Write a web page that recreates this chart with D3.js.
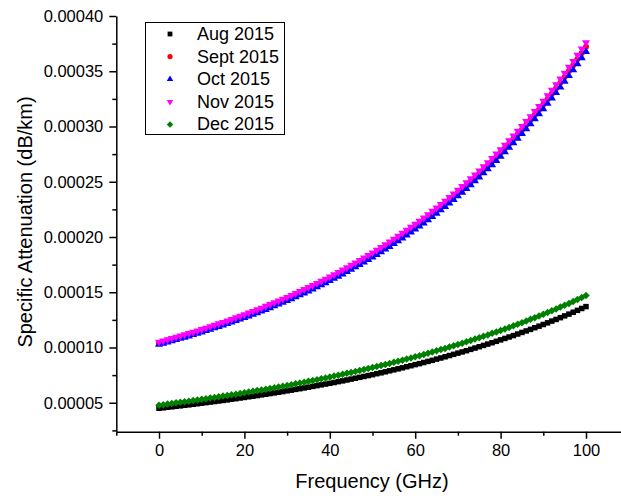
<!DOCTYPE html>
<html>
<head>
<meta charset="utf-8">
<script src="https://cdn.jsdelivr.net/npm/d3@7"></script>
<style>
  body { margin: 0; background: #fff; }
  svg { display: block; font-family: Arial, "Liberation Sans", sans-serif; }
</style>
</head>
<body>
<svg id="chart"></svg>
<script>
// frequency grid (GHz)
const freq = d3.range(0, 101, 1);

// specific attenuation values, in units of 1e-6 dB/km
const aug = [
  45.0,45.4,45.9,46.3,46.8,47.2,47.7,48.1,48.6,49.1,
  49.6,50.1,50.6,51.1,51.6,52.1,52.6,53.2,53.7,54.3,
  54.8,55.4,55.9,56.5,57.1,57.7,58.3,58.9,59.5,60.1,
  60.8,61.4,62.1,62.7,63.4,64.1,64.8,65.5,66.2,66.9,
  67.6,68.3,69.1,69.8,70.6,71.4,72.2,73.0,73.8,74.6,
  75.4,76.3,77.1,78.0,78.9,79.8,80.7,81.6,82.6,83.5,
  84.5,85.4,86.4,87.4,88.4,89.5,90.5,91.6,92.7,93.8,
  94.9,96.0,97.1,98.3,99.5,100.7,101.9,103.1,104.3,105.6,
  106.9,108.2,109.5,110.8,112.2,113.6,115.0,116.4,117.9,119.3,
  120.8,122.3,123.9,125.4,127.0,128.6,130.2,131.9,133.6,135.3,
  137.0];

const sept = [
  104.0,105.0,106.1,107.2,108.3,109.4,110.6,111.7,112.9,114.0,
  115.3,116.5,117.8,119.0,120.4,121.7,123.0,124.3,125.7,127.1,
  128.5,130.0,131.5,133.0,134.4,136.0,137.6,139.2,140.8,142.5,
  144.0,145.8,147.5,149.3,151.1,152.9,154.7,156.6,158.5,160.4,
  162.4,164.3,166.4,168.5,170.6,172.8,174.9,177.1,179.4,181.7,
  183.9,186.3,188.8,191.2,193.7,196.2,198.8,201.5,204.1,206.8,
  209.6,212.4,215.2,218.2,221.2,224.1,227.2,230.3,233.5,236.7,
  240.0,243.3,246.8,250.3,253.7,257.4,261.1,264.7,268.6,272.4,
  276.3,280.4,284.4,288.6,292.8,297.1,301.6,306.0,310.6,315.1,
  319.9,324.7,329.6,334.6,339.7,344.8,350.2,355.5,361.0,366.6,
  372.2];

const oct = [
  102.7,103.7,104.8,105.9,107.0,108.1,109.2,110.3,111.5,112.7,
  113.9,115.1,116.3,117.6,118.9,120.2,121.5,122.8,124.2,125.6,
  127.0,128.4,129.9,131.3,132.8,134.3,135.9,137.5,139.1,140.7,
  142.3,144.0,145.7,147.5,149.2,151.0,152.8,154.7,156.6,158.5,
  160.4,162.4,164.4,166.4,168.5,170.6,172.8,175.0,177.2,179.5,
  181.8,184.1,186.5,188.9,191.3,193.9,196.4,199.0,201.6,204.3,
  207.0,209.8,212.6,215.5,218.4,221.4,224.4,227.5,230.7,233.8,
  237.1,240.4,243.8,247.2,250.7,254.2,257.9,261.5,265.3,269.1,
  273.0,277.0,281.0,285.1,289.3,293.5,297.8,302.3,306.8,311.3,
  316.0,320.8,325.6,330.5,335.5,340.7,345.9,351.2,356.6,362.1,
  367.7];

const nov = [
  105.0,106.1,107.2,108.3,109.4,110.5,111.7,112.8,114.0,115.2,
  116.5,117.7,119.0,120.2,121.6,122.9,124.2,125.6,127.0,128.4,
  129.8,131.3,132.8,134.3,135.8,137.4,139.0,140.6,142.2,143.9,
  145.5,147.3,149.0,150.8,152.6,154.4,156.3,158.2,160.1,162.0,
  164.0,166.0,168.1,170.2,172.3,174.5,176.7,178.9,181.2,183.5,
  185.8,188.2,190.7,193.1,195.7,198.2,200.8,203.5,206.2,208.9,
  211.7,214.5,217.4,220.4,223.4,226.4,229.5,232.6,235.9,239.1,
  242.4,245.8,249.3,252.8,256.3,260.0,263.7,267.4,271.3,275.2,
  279.1,283.2,287.3,291.5,295.8,300.1,304.6,309.1,313.7,318.3,
  323.1,328.0,332.9,338.0,343.1,348.3,353.7,359.1,364.6,370.3,
  376.0];

const dec = [
  47.8,48.3,48.8,49.3,49.9,50.4,50.9,51.4,52.0,52.5,
  53.1,53.7,54.2,54.8,55.4,56.0,56.6,57.2,57.8,58.4,
  59.0,59.7,60.3,61.0,61.6,62.3,63.0,63.6,64.3,65.0,
  65.7,66.4,67.2,67.9,68.6,69.4,70.1,70.9,71.7,72.5,
  73.3,74.1,74.9,75.7,76.6,77.4,78.3,79.2,80.0,80.9,
  81.8,82.8,83.7,84.6,85.6,86.6,87.5,88.5,89.5,90.6,
  91.6,92.6,93.7,94.8,95.9,97.0,98.1,99.2,100.4,101.5,
  102.7,103.9,105.1,106.3,107.6,108.9,110.1,111.4,112.8,114.1,
  115.4,116.8,118.2,119.6,121.1,122.5,124.0,125.5,127.0,128.5,
  130.1,131.7,133.3,134.9,136.6,138.2,139.9,141.7,143.4,145.2,
  147.0];

const seriesNames = ["Aug 2015", "Sept 2015", "Oct 2015", "Nov 2015", "Dec 2015"];
const xTicks = [0, 20, 40, 60, 80, 100];
const yTicks = [0.00005, 0.00010, 0.00015, 0.00020, 0.00025, 0.00030, 0.00035, 0.00040];

const width = 621, height = 500;
const unit = 1e-6;

const series = [
  { name: seriesNames[0], values: aug,  color: "#000000", shape: "square" },
  { name: seriesNames[1], values: sept, color: "#ff0000", shape: "circle" },
  { name: seriesNames[2], values: oct,  color: "#0000ff", shape: "up" },
  { name: seriesNames[3], values: nov,  color: "#ff00ff", shape: "down" },
  { name: seriesNames[4], values: dec,  color: "#008000", shape: "diamond" }
];

const svg = d3.select("#chart")
  .attr("width", width)
  .attr("height", height);

// scales
const x = d3.scaleLinear().domain([-10, 110]).range([116.3, 628.7]);
const y = d3.scaleLinear().domain([0.0000238, 0.0004]).range([431.7, 16]);

// marker shapes
function symbolPath(shape, s) {
  if (shape === "square") return d3.symbol(d3.symbolSquare, s * s)();
  if (shape === "circle") return d3.symbol(d3.symbolCircle, Math.PI * s * s / 4)();
  if (shape === "up" || shape === "down") return d3.symbol(d3.symbolTriangle, Math.sqrt(3) / 4 * s * s)();
  return d3.symbol(d3.symbolSquare, s * s / 2)();
}
function symbolRotate(shape) {
  if (shape === "down") return 180;
  if (shape === "diamond") return 45;
  return 0;
}
const dataSize = { square: 5.5, circle: 6, up: 8, down: 8, diamond: 7.5 };
const legendSize = { square: 4.8, circle: 5.2, up: 6.5, down: 6.5, diamond: 6.5 };

// data markers
series.forEach(s => {
  svg.append("g")
    .selectAll("path")
    .data(freq)
    .enter()
    .append("path")
    .attr("d", symbolPath(s.shape, dataSize[s.shape]))
    .attr("transform", (f, i) => `translate(${x(f)},${y(s.values[i] * unit)}) rotate(${symbolRotate(s.shape)})`)
    .attr("fill", s.color);
});

// axes
svg.append("g")
  .attr("transform", `translate(0,${y.range()[0]})`)
  .call(d3.axisBottom(x).tickValues(xTicks).tickSize(7).tickSizeOuter(0).tickPadding(6));

svg.append("g")
  .attr("transform", `translate(0,${y.range()[0]})`)
  .call(d3.axisBottom(x).tickValues([-10, 10, 30, 50, 70, 90, 110]).tickSize(4).tickFormat(""))
  .call(g => g.select(".domain").remove());

svg.append("g")
  .attr("transform", `translate(${x.range()[0]},0)`)
  .call(d3.axisLeft(y).tickValues(yTicks).tickFormat(d3.format(".5f")).tickSize(7).tickSizeOuter(0).tickPadding(6));

svg.append("g")
  .attr("transform", `translate(${x.range()[0]},0)`)
  .call(d3.axisLeft(y).tickValues([0.000025, 0.000075, 0.000125, 0.000175, 0.000225, 0.000275, 0.000325, 0.000375]).tickSize(4).tickFormat(""))
  .call(g => g.select(".domain").remove());

svg.selectAll(".domain, .tick line")
  .attr("stroke", "#000")
  .attr("stroke-width", 1.5);

svg.selectAll(".tick text")
  .attr("fill", "#000")
  .style("font-size", "16.5px");

// axis titles
svg.append("text")
  .attr("x", 372)
  .attr("y", 488)
  .attr("text-anchor", "middle")
  .style("font-size", "20px")
  .text("Frequency (GHz)");

svg.append("text")
  .attr("transform", "translate(32,222) rotate(-90)")
  .attr("text-anchor", "middle")
  .style("font-size", "20px")
  .text("Specific Attenuation (dB/km)");

// legend
const legend = svg.append("g");
legend.append("rect")
  .attr("x", 145.5)
  .attr("y", 22.5)
  .attr("width", 139)
  .attr("height", 112)
  .attr("fill", "#fff")
  .attr("stroke", "#000")
  .attr("stroke-width", 1);

series.forEach((s, i) => {
  const cy = 34 + i * 22.6;
  legend.append("path")
    .attr("d", symbolPath(s.shape, legendSize[s.shape]))
    .attr("transform", `translate(170,${cy}) rotate(${symbolRotate(s.shape)})`)
    .attr("fill", s.color);
  legend.append("text")
    .attr("x", 197)
    .attr("y", cy + 6)
    .style("font-size", "18px")
    .text(s.name);
});
</script>
</body>
</html>
